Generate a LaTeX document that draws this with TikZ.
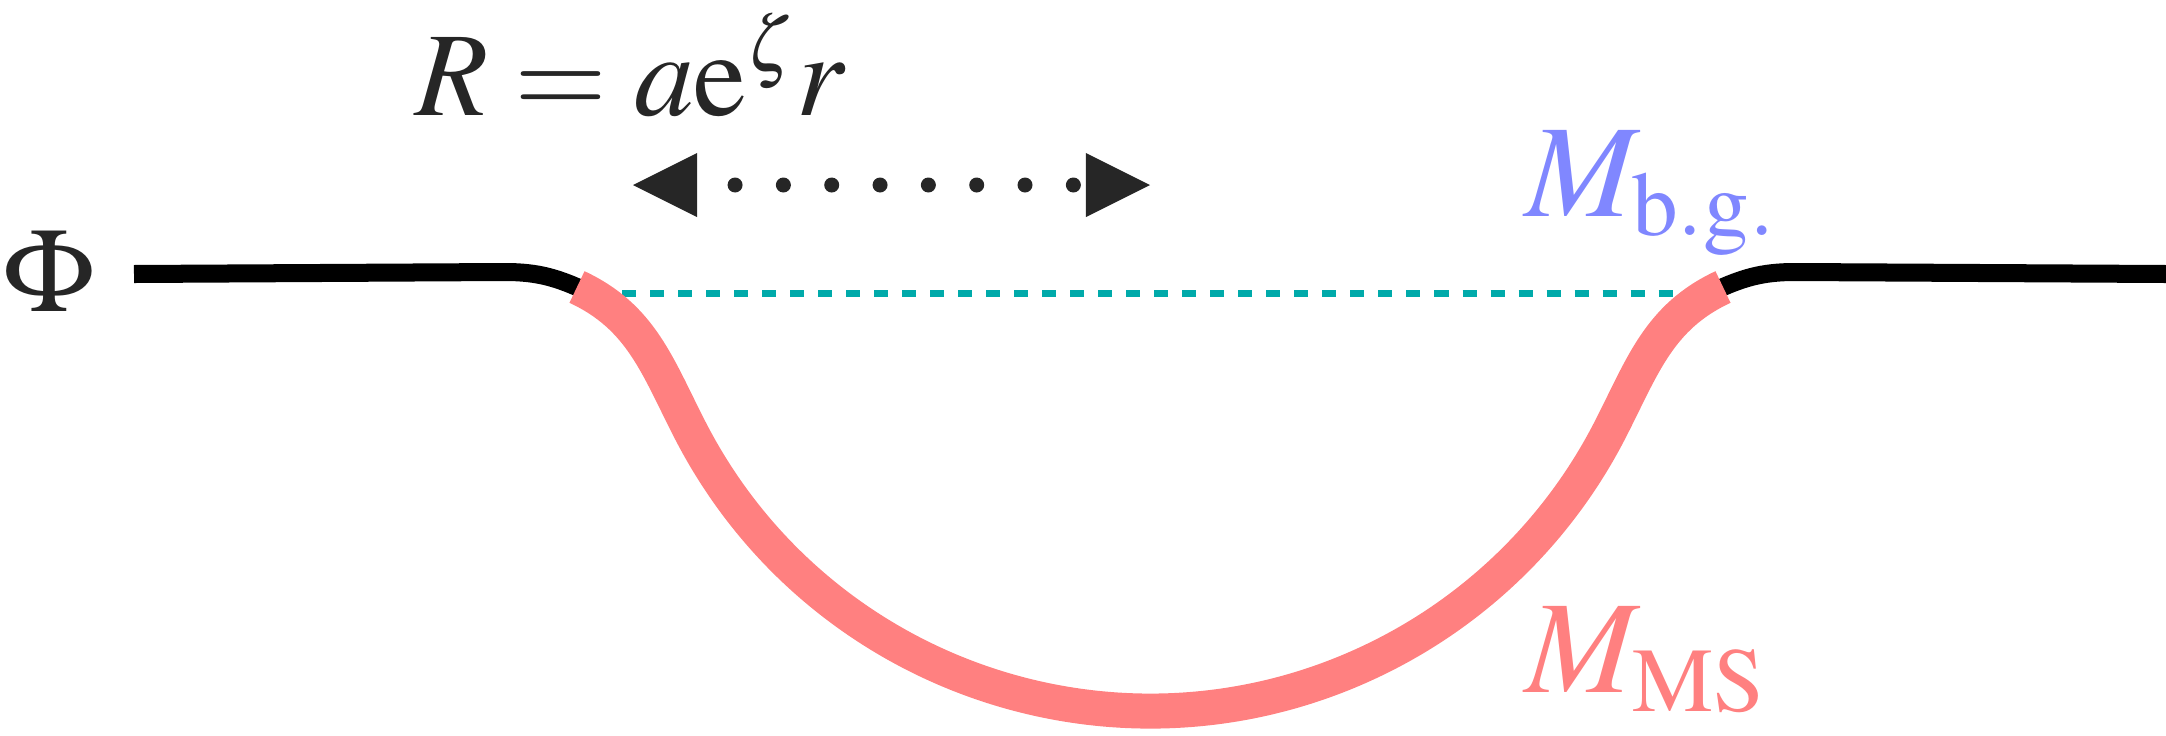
\documentclass[tikz,border=0pt]{standalone}
\usepackage{mathptmx}
\usepackage{xcolor}
\usetikzlibrary{arrows.meta}

\DeclareMathSizes{34}{34}{22}{17}
\DeclareMathSizes{37.5}{37.5}{26}{19}

\definecolor{inkgray}{HTML}{262626}
\definecolor{msred}{HTML}{FF8080}
\definecolor{bgblue}{HTML}{8087FF}
\definecolor{bgteal}{HTML}{00AAAA}

\begin{document}
\begin{tikzpicture}[
    x=0.01cm, y=0.01cm,
    mathtext/.style={
      inkgray, inner sep=0pt, anchor=base,
      font=\fontsize{34}{40}\selectfont
    },
    mass/.style={
      inner sep=0pt, anchor=base west,
      font=\fontsize{37.5}{44}\selectfont
    },
    field/.style={draw=black, line width=0.18cm},
    wall/.style={draw=msred, line width=0.35cm},
    bgline/.style={draw=bgteal, line width=0.07cm, dash pattern=on 0.14cm off 0.14cm},
    sizebar/.style={
      draw=inkgray, line width=0.15cm, line cap=round,
      dash pattern=on 0cm off 0.483cm, dash phase=0.103cm, <->
    },
    >={Triangle[length=0.64cm, width=0.64cm, line width=0pt]}
  ]
    \useasboundingbox (0,0) rectangle (2166,735);

    % Profile anchors
    \coordinate (farL)  at (134,461);
    \coordinate (kneeL) at (505,463);
    \coordinate (tipL)  at (588,443);
    \coordinate (wallL) at (577,448);
    \coordinate (wallR) at (1723,448);
    \coordinate (tipR)  at (1712,443);
    \coordinate (kneeR) at (1795,463);
    \coordinate (farR)  at (2166,461);

    % Background value (dashed)
    \coordinate (bgL) at (594,442);
    \coordinate (bgR) at (1710,442);
    \draw[bgline] (bgL) -- (bgR);

    % Field outside the bubble
    \draw[field] (farL) -- (kneeL) to[out=0,in=155] (tipL);
    \draw[field] (farR) -- (kneeR) to[out=180,in=25] (tipR);

    % Bubble wall
    \draw[wall] (wallL) to[out=-25,in=117.2] (690.2,304.7)
      arc[start angle=207.2, end angle=332.8, radius=517]
      to[out=62.8,in=205] (wallR);

    % Size of the bubble
    \coordinate (barL) at (633,550);
    \coordinate (barR) at (1150,550);
    \draw[sizebar] (barL) -- (barR);

    % Labels
    \node[mathtext] (phi)    at (49.5,424)  {$\Phi$};
    \node[mathtext] (radius) at (630.5,620) {$R = a\mathrm{e}^{\zeta} r$};
    \node[mass, bgblue] (mbg) at (1525,519) {$M_{\mathrm{b.g.}}$};
    \node[mass, msred]  (mms) at (1525,43)  {$M_{\mathrm{MS}}$};

  \end{tikzpicture}
\end{document}
